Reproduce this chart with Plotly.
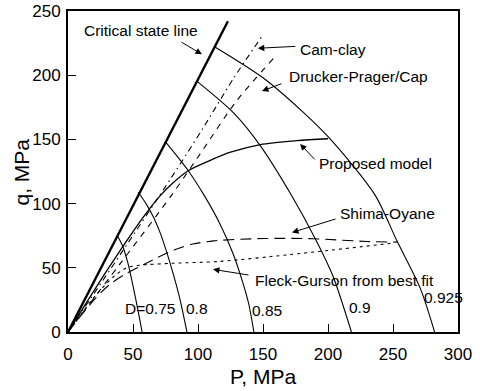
import plotly.graph_objects as go

# ---------------- data ----------------
csl_p = [0, 123]
csl_q = [0, 242]

proposed_p = [0, 30, 51.5, 60.5, 70.8, 80, 92.5, 109, 125, 148, 176, 200]
proposed_q = [0, 48, 80.4, 93, 106, 115.5, 125.6, 133.5, 140, 146, 149, 150.5]

camclay_p = [0, 40, 80, 104, 127, 149]
camclay_q = [0, 60, 121, 159, 197, 230]

dp_p = [0, 40, 80, 101.5, 129.7, 158]
dp_q = [0, 53, 107, 138.5, 180, 213]

shima_p = [0, 20, 32, 44, 59, 82, 96, 112, 150, 189, 230, 253]
shima_q = [0, 25, 37, 45, 53, 64, 68.5, 71, 72.8, 72.6, 70.5, 70]

fleck_p = [0, 20, 35, 45, 55, 80, 117, 168, 200, 248]
fleck_q = [0, 27, 43, 50, 52, 53.5, 55, 60, 63.5, 69]

d075_p = [38, 42, 46, 50, 54, 57]
d075_q = [75, 67, 54, 36, 16, 0]

d080_p = [54, 60, 66, 71, 76, 81, 86, 91.5]
d080_q = [108.8, 100, 89, 77, 62, 45, 26, 0]

d085_p = [75, 92.5, 105, 117, 127, 134, 139, 143]
d085_q = [148, 125.6, 106, 84, 61, 40, 22, 0]

d090_p = [99.5, 127, 148, 171, 191, 204, 218]
d090_q = [195, 171, 145, 108, 71, 43, 0]

d0925_p = [113, 150, 180, 202, 236, 253, 271, 282]
d0925_q = [222, 198, 172, 150, 107, 71, 34, 0]

density_labels = ["D=0.75", "0.8", "0.85", "0.9", "0.925"]
x_ticks = [0, 50, 100, 150, 200, 250, 300]
y_ticks = [0, 50, 100, 150, 200, 250]

FONT = "Liberation Sans, Arial, sans-serif"

fig = go.Figure()

def add(p, q, width=1.0, dash="solid", shape="spline"):
    fig.add_trace(go.Scatter(x=p, y=q, mode="lines",
                             line=dict(color="black", width=width, dash=dash,
                                       shape=shape, smoothing=0.8),
                             showlegend=False, hoverinfo="skip"))

# density contours
for p, q in [(d075_p, d075_q), (d080_p, d080_q), (d085_p, d085_q),
             (d090_p, d090_q), (d0925_p, d0925_q)]:
    add(p, q, width=1.1)

add(camclay_p, camclay_q, width=1.1, dash="6px,4px,1.5px,4px")
add(dp_p, dp_q, width=1.1, dash="6px,6px")
add(shima_p, shima_q, width=1.1, dash="11px,6px")
add(fleck_p, fleck_q, width=1.1, dash="3px,4px")
add(proposed_p, proposed_q, width=1.3)
add(csl_p, csl_q, width=2.4, shape="linear")

ann = []
def text(t, x, y):
    ann.append(dict(x=x, y=y, xref="x", yref="y", text=t, showarrow=False,
                    xanchor="left", yanchor="middle",
                    font=dict(family=FONT, size=15.5, color="black")))

def arrow(hx, hy, tx, ty):
    ann.append(dict(x=hx, y=hy, xref="x", yref="y", ax=tx, ay=ty,
                    axref="x", ayref="y", text="", showarrow=True,
                    arrowhead=2, arrowsize=1.3, arrowwidth=1, arrowcolor="black"))

text("Critical state line", 10.8, 234.9)
arrow(103, 216.3, 86.2, 226.4)
text("Cam-clay", 177, 220.2)
arrow(146, 221, 176, 222.5)
text("Drucker-Prager/Cap", 168.5, 199.2)
arrow(149.2, 187.6, 165.4, 193.8)
text("Proposed model", 191.5, 131)
arrow(178.5, 146.5, 190.8, 133.3)
text("Shima-Oyane", 207.7, 92.2)
arrow(172.3, 77.5, 207, 88.4)
text("Fleck-Gurson from best fit", 142.3, 40.3)
arrow(111.5, 48.8, 140, 44.2)

label_pos = [(42.3, 18.6), (89.2, 18.6), (140, 17), (214.6, 19.4), (272.3, 27)]
for t, (x, y) in zip(density_labels, label_pos):
    text(t, x, y)

# y-axis title placed as a rotated annotation
ann.append(dict(x=-0.118, y=0.5, xref="paper", yref="paper", text="q, MPa",
                textangle=-90, showarrow=False, xanchor="center", yanchor="middle",
                font=dict(family=FONT, size=21, color="black")))

fig.update_layout(
    width=480, height=391,
    margin=dict(l=68, r=22, t=11, b=59, autoexpand=False),
    plot_bgcolor="white", paper_bgcolor="white",
    font=dict(family=FONT, color="black"),
    annotations=ann,
    xaxis=dict(range=[0, 300], tickvals=x_ticks, ticktext=[str(v) for v in x_ticks],
               ticks="inside", ticklen=8, tickwidth=1.3, tickcolor="black",
               showline=True, linecolor="black", linewidth=1.8, mirror=True,
               showgrid=False, zeroline=False, automargin=False,
               tickfont=dict(size=17, family=FONT), ticklabelstandoff=6,
               title=dict(text="P, MPa", font=dict(size=21, family=FONT), standoff=6)),
    yaxis=dict(range=[0, 250], tickvals=y_ticks, ticktext=[str(v) for v in y_ticks],
               ticks="inside", ticklen=8, tickwidth=1.3, tickcolor="black",
               showline=True, linecolor="black", linewidth=1.8, mirror=True,
               showgrid=False, zeroline=False, automargin=False,
               tickfont=dict(size=17, family=FONT), ticklabelstandoff=2),
)

fig.write_html("out.html")
